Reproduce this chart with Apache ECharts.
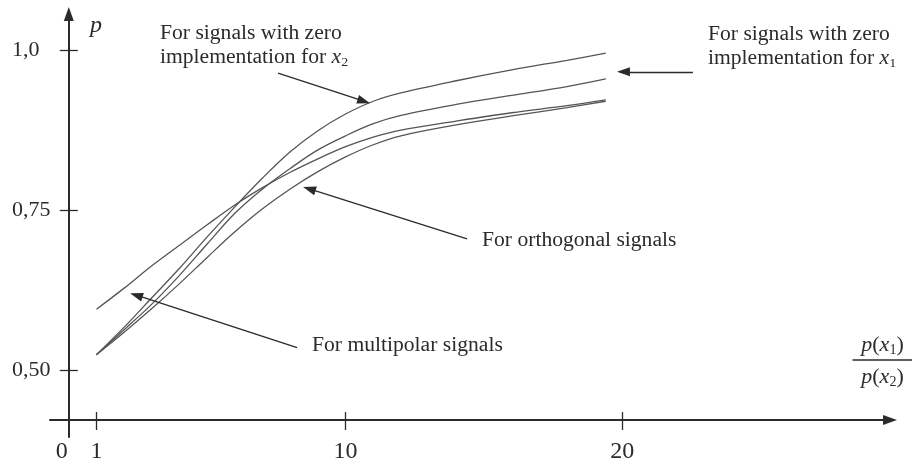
<!DOCTYPE html>
<html>
<head>
<meta charset="utf-8">
<script src="https://cdn.jsdelivr.net/npm/echarts@6/dist/echarts.min.js"></script>
<style>
  html, body { margin: 0; background: #fff; }
  #chart { width: 912px; height: 466px; }
</style>
</head>
<body>
<div id="chart"></div>
<script>
// ratio p(x1)/p(x2) on x, probability p on y
var ratioX     = [1, 2, 3, 4, 5, 6, 7, 8, 9, 10, 11, 12, 14, 16, 18, 19.4];
var zeroForX2  = [0.525, 0.568, 0.614, 0.660, 0.709, 0.756, 0.801, 0.842, 0.875, 0.901, 0.921, 0.934, 0.953, 0.970, 0.985, 0.996];
var zeroForX1  = [0.525, 0.564, 0.604, 0.649, 0.698, 0.746, 0.784, 0.816, 0.845, 0.867, 0.886, 0.899, 0.916, 0.930, 0.944, 0.956];
var orthogonal = [0.525, 0.560, 0.597, 0.636, 0.677, 0.717, 0.753, 0.784, 0.811, 0.834, 0.853, 0.867, 0.884, 0.898, 0.911, 0.921];
var multipolar = [0.596, 0.629, 0.664, 0.696, 0.728, 0.759, 0.786, 0.810, 0.831, 0.850, 0.865, 0.876, 0.890, 0.903, 0.914, 0.923];

var xTickValues  = [1, 10, 20];
var xLabelValues = [0, 1, 10, 20];
var yTickValues  = [0.5, 0.75, 1.0];
var yTickLabels  = ['0,50', '0,75', '1,0'];

// pointer arrows, [from, to] in data coords
var arrowX2    = [[7.56, 0.965], [10.66, 0.921]];
var arrowX1    = [[22.55, 0.967], [20.04, 0.967]];
var arrowOrth  = [[14.39, 0.706], [8.69, 0.784]];
var arrowMulti = [[8.25, 0.536], [2.44, 0.618]];

var serif = '"Liberation Serif", "Times New Roman", serif';
var ink = '#2b2b2b';

function pairs(xs, ys) {
    return xs.map(function (x, i) { return [x, ys[i]]; });
}

function curve(name, ys, arrow) {
    return {
        name: name,
        type: 'line',
        data: pairs(ratioX, ys),
        smooth: 0.35,
        showSymbol: false,
        silent: true,
        lineStyle: { color: '#555', width: 1.3 },
        markLine: {
            silent: true,
            animation: false,
            symbol: ['none', 'triangle'],
            symbolSize: [9, 13],
            itemStyle: { color: ink },
            lineStyle: { color: ink, width: 1.3, type: 'solid' },
            label: { show: false },
            data: [[{ coord: arrow[0] }, { coord: arrow[1] }]]
        }
    };
}

var chart = echarts.init(document.getElementById('chart'));

var xBase = {
    type: 'value',
    min: -0.679,
    max: 29.67,
    position: 'bottom',
    offset: -17,
    splitLine: { show: false }
};
var yBase = {
    type: 'value',
    min: 0.3964,
    max: 1.0573,
    position: 'left',
    splitLine: { show: false }
};

chart.setOption({
    animation: false,
    backgroundColor: '#fff',
    grid: { left: 50, right: 22, top: 14, bottom: 29, outerBoundsMode: 'none' },
    xAxis: [
        Object.assign({}, xBase, {
            axisLine: {
                onZero: false,
                lineStyle: { color: ink, width: 2 },
                symbol: ['none', 'triangle'],
                symbolSize: [10, 14]
            },
            axisTick: {
                inside: false, length: 10, customValues: xTickValues,
                lineStyle: { color: ink, width: 1.3 }
            },
            axisLabel: {
                customValues: xLabelValues,
                margin: 20,
                color: ink,
                fontFamily: serif,
                fontSize: 24,
                formatter: function (v) { return v === 0 ? '{z|0}' : String(v); },
                rich: { z: { fontFamily: serif, fontSize: 24, color: ink, padding: [0, 14, 0, 0] } }
            }
        }),
        Object.assign({}, xBase, {
            axisLine: { show: false, onZero: false },
            axisTick: {
                inside: true, length: 8, customValues: xTickValues,
                lineStyle: { color: ink, width: 1.3 }
            },
            axisLabel: { show: false }
        })
    ],
    yAxis: [
        Object.assign({}, yBase, {
            axisLine: {
                onZero: true,
                lineStyle: { color: ink, width: 2 },
                symbol: ['none', 'triangle'],
                symbolSize: [10, 14]
            },
            axisTick: {
                inside: false, length: 9, customValues: yTickValues,
                lineStyle: { color: ink, width: 1.3 }
            },
            axisLabel: {
                customValues: yTickValues,
                align: 'left',
                margin: 38,
                padding: [0, 0, 12, 0],
                color: ink,
                fontFamily: serif,
                fontSize: 22,
                formatter: function (v) { return yTickLabels[yTickValues.indexOf(v)]; }
            }
        }),
        Object.assign({}, yBase, {
            axisLine: { show: false, onZero: true },
            axisTick: {
                inside: true, length: 9, customValues: yTickValues,
                lineStyle: { color: ink, width: 1.3 }
            },
            axisLabel: { show: false }
        })
    ],
    series: [
        curve('For signals with zero implementation for x2', zeroForX2, arrowX2),
        curve('For signals with zero implementation for x1', zeroForX1, arrowX1),
        curve('For orthogonal signals', orthogonal, arrowOrth),
        curve('For multipolar signals', multipolar, arrowMulti)
    ],
    graphic: [
        {
            type: 'text', left: 90, top: 14,
            style: { text: 'p', font: 'italic 24px ' + serif, fill: ink }
        },
        {
            type: 'text', left: 160, top: 22, scaleX: 1.08,
            style: {
                text: 'For signals with zero\nimplementation for {i|x}{s|2}',
                font: '20px ' + serif, fill: ink, lineHeight: 24,
                rich: {
                    i: { font: 'italic 20px ' + serif, fill: ink, lineHeight: 24 },
                    s: { font: '13px ' + serif, fill: ink, lineHeight: 24, padding: [10, 0, 0, 0] }
                }
            }
        },
        {
            type: 'text', left: 708, top: 23, scaleX: 1.08,
            style: {
                text: 'For signals with zero\nimplementation for {i|x}{s|1}',
                font: '20px ' + serif, fill: ink, lineHeight: 24,
                rich: {
                    i: { font: 'italic 20px ' + serif, fill: ink, lineHeight: 24 },
                    s: { font: '13px ' + serif, fill: ink, lineHeight: 24, padding: [10, 0, 0, 0] }
                }
            }
        },
        {
            type: 'text', left: 482, top: 231, scaleX: 1.08,
            style: { text: 'For orthogonal signals', font: '20px ' + serif, fill: ink }
        },
        {
            type: 'text', left: 312, top: 336, scaleX: 1.08,
            style: { text: 'For multipolar signals', font: '20px ' + serif, fill: ink }
        },
        {
            type: 'group', left: 850, top: 334,
            children: [
                {
                    type: 'text', x: 30, y: 0,
                    style: {
                        text: '{i|p}({i|x}{s|1})', align: 'center',
                        font: '22px ' + serif, fill: ink,
                        rich: {
                            i: { font: 'italic 22px ' + serif, fill: ink },
                            s: { font: '14px ' + serif, fill: ink, padding: [10, 0, 0, 0] }
                        }
                    }
                },
                {
                    type: 'line',
                    shape: { x1: 0, y1: 27, x2: 61, y2: 27 },
                    style: { stroke: ink, lineWidth: 1.3 }
                },
                {
                    type: 'text', x: 30, y: 32,
                    style: {
                        text: '{i|p}({i|x}{s|2})', align: 'center',
                        font: '22px ' + serif, fill: ink,
                        rich: {
                            i: { font: 'italic 22px ' + serif, fill: ink },
                            s: { font: '14px ' + serif, fill: ink, padding: [10, 0, 0, 0] }
                        }
                    }
                }
            ]
        }
    ]
});
</script>
</body>
</html>
